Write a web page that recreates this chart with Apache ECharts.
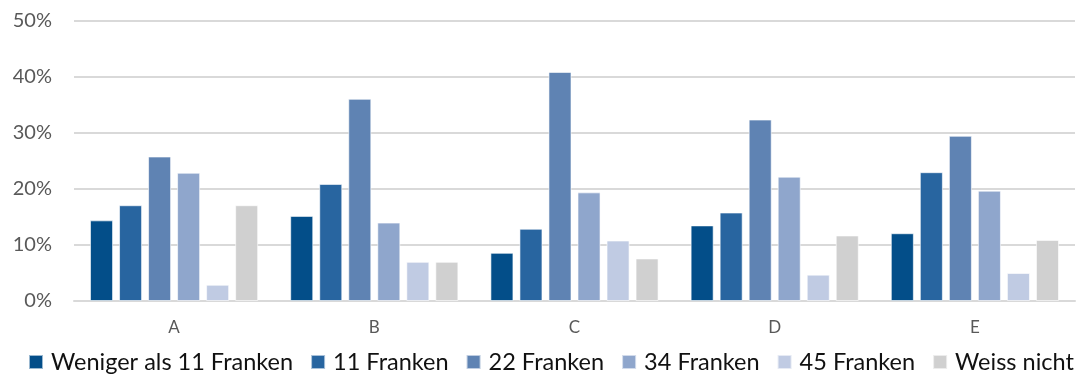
<!DOCTYPE html>
<html>
<head>
<meta charset="utf-8">
<script src="https://cdn.jsdelivr.net/npm/echarts@6/dist/echarts.min.js"></script>
<style>
  html, body { margin: 0; padding: 0; background: #ffffff; }
  #chart { width: 1088px; height: 378px; }
</style>
</head>
<body>
<div id="chart"></div>
<script>
// Categories and series (share of answers in percent)
const categories = ['A', 'B', 'C', 'D', 'E'];
const seriesNames = ['Weniger als 11 Franken', '11 Franken', '22 Franken', '34 Franken', '45 Franken', 'Weiss nicht'];
const lessThan11 = [14.4, 15.2, 8.6, 13.5, 12.1];
const fr11 = [17.1, 20.9, 12.9, 15.8, 23.0];
const fr22 = [25.8, 36.1, 40.9, 32.4, 29.5];
const fr34 = [22.9, 14.0, 19.4, 22.2, 19.7];
const fr45 = [2.9, 7.0, 10.8, 4.7, 5.0];
const dontKnow = [17.1, 7.0, 7.6, 11.7, 10.9];
const seriesValues = [lessThan11, fr11, fr22, fr34, fr45, dontKnow];
const colors = ['#034e89', '#2865a0', '#5f83b3', '#8fa6cc', '#c0cbe3', '#d0d0d0'];

const chart = echarts.init(document.getElementById('chart'));
chart.setOption({
  animation: false,
  color: colors,
  textStyle: { fontFamily: 'Lato, "Open Sans", sans-serif' },
  grid: { left: 74, right: 13, top: 21, bottom: 77 },
  legend: {
    top: 348,
    left: 28,
    padding: [2, 0, 2, 0],
    itemWidth: 14,
    itemHeight: 14,
    itemGap: 17,
    icon: 'rect',
    textStyle: { fontSize: 23.5, color: '#111111', padding: [0, 0, 0, 3] },
    data: seriesNames
  },
  xAxis: {
    type: 'category',
    data: categories,
    axisLine: { lineStyle: { color: '#d9d9d9', width: 2 } },
    axisTick: { show: false },
    axisLabel: { color: '#595959', fontSize: 17, margin: 18 }
  },
  yAxis: {
    type: 'value',
    min: 0,
    max: 50,
    interval: 10,
    axisLine: { show: false },
    axisTick: { show: false },
    axisLabel: { color: '#595959', fontSize: 20, margin: 22, formatter: '{value}%' },
    splitLine: { lineStyle: { color: '#d9d9d9', width: 2 } }
  },
  series: seriesNames.map((name, i) => ({
    name: name,
    type: 'bar',
    data: seriesValues[i],
    barGap: '26%',
    barCategoryGap: '16%',
    itemStyle: { borderColor: 'rgba(255,255,255,0.6)', borderWidth: 1 }
  }))
});
</script>
</body>
</html>
